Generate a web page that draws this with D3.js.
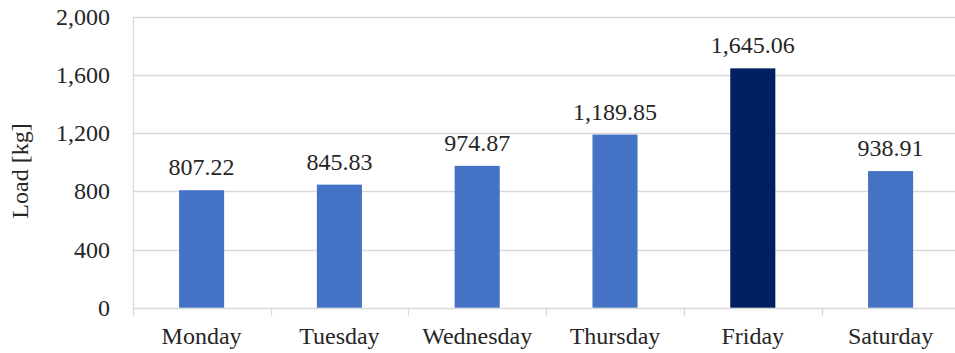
<!DOCTYPE html>
<html>
<head>
<meta charset="utf-8">
<script src="https://cdn.jsdelivr.net/npm/d3@7"></script>
<style>
  html, body { margin: 0; padding: 0; background: #fff; }
  svg { display: block; font-family: "Liberation Serif", "Times New Roman", serif; }
</style>
</head>
<body>
<svg id="chart" width="955" height="353"></svg>
<script>
// Daily load per weekday
const days = ["Monday", "Tuesday", "Wednesday", "Thursday", "Friday", "Saturday"];
const loads = [807.22, 845.83, 974.87, 1189.85, 1645.06, 938.91];
const yTicks = [0, 400, 800, 1200, 1600, 2000];
const highlightDay = "Friday";

const width = 955, height = 353;
// plot spans slightly past the right edge of the canvas
const plotLeft = 132.7, plotRight = 959.5;
const plotTop = 16.7, plotBottom = 307.7;
const svg = d3.select("#chart");

const x = d3.scaleBand()
  .domain(days)
  .range([plotLeft, plotRight])
  .padding(0);

const y = d3.scaleLinear()
  .domain([0, 2000])
  .range([plotBottom, plotTop]);

const barRatio = 0.327;
const barW = x.bandwidth() * barRatio;
const gridColor = "#d9d9d9";
const textColor = "#262626";

// Horizontal gridlines
svg.append("g")
  .selectAll("line")
  .data(yTicks)
  .join("line")
  .attr("x1", plotLeft)
  .attr("x2", plotRight)
  .attr("y1", d => Math.round(y(d)) + 0.5)
  .attr("y2", d => Math.round(y(d)) + 0.5)
  .attr("stroke", gridColor)
  .attr("stroke-width", 1.3);

// Vertical axis line
svg.append("line")
  .attr("x1", Math.round(plotLeft) + 0.5)
  .attr("x2", Math.round(plotLeft) + 0.5)
  .attr("y1", y(2000))
  .attr("y2", y(0) + 8)
  .attr("stroke", gridColor)
  .attr("stroke-width", 1.3);

// Category boundary ticks
svg.append("g")
  .selectAll("line")
  .data(days.slice(1))
  .join("line")
  .attr("x1", d => Math.round(x(d)) + 0.5)
  .attr("x2", d => Math.round(x(d)) + 0.5)
  .attr("y1", y(0))
  .attr("y2", y(0) + 8)
  .attr("stroke", gridColor)
  .attr("stroke-width", 1.3);

const rows = days.map((d, i) => ({ day: d, value: loads[i] }));

// Bars
svg.append("g")
  .selectAll("rect")
  .data(rows)
  .join("rect")
  .attr("x", d => x(d.day) + (x.bandwidth() - barW) / 2)
  .attr("y", d => y(d.value))
  .attr("width", barW)
  .attr("height", d => y(0) - y(d.value))
  .attr("fill", d => d.day === highlightDay ? "#002060" : "#4472C4");

// Value labels
const fmtVal = d3.format(",.2f");
svg.append("g")
  .selectAll("text")
  .data(rows)
  .join("text")
  .attr("x", d => x(d.day) + x.bandwidth() / 2)
  .attr("y", d => y(d.value) - 15)
  .attr("text-anchor", "middle")
  .attr("font-size", 24)
  .attr("fill", textColor)
  .text(d => fmtVal(d.value));

// Y tick labels
const fmtTick = d3.format(",");
svg.append("g")
  .selectAll("text")
  .data(yTicks)
  .join("text")
  .attr("x", 110)
  .attr("y", d => y(d))
  .attr("dy", "0.34em")
  .attr("text-anchor", "end")
  .attr("font-size", 24)
  .attr("fill", textColor)
  .text(d => fmtTick(d));

// Category labels
svg.append("g")
  .selectAll("text")
  .data(days)
  .join("text")
  .attr("x", d => x(d) + x.bandwidth() / 2)
  .attr("y", 344)
  .attr("text-anchor", "middle")
  .attr("font-size", 24)
  .attr("fill", textColor)
  .text(d => d);

// Y axis title
svg.append("text")
  .attr("transform", "translate(28, 171) rotate(-90)")
  .attr("text-anchor", "middle")
  .attr("font-size", 24)
  .attr("fill", textColor)
  .text("Load [kg]");
</script>
</body>
</html>
